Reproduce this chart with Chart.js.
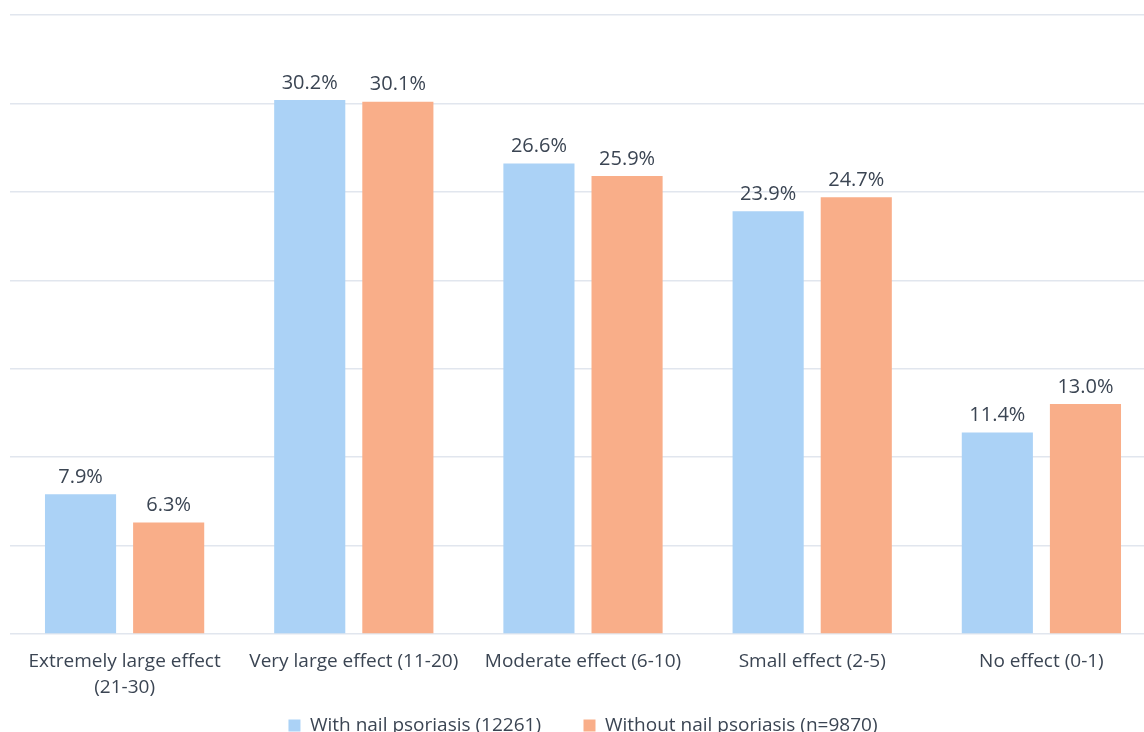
<!DOCTYPE html>
<html>
<head>
<meta charset="utf-8">
<script src="https://cdn.jsdelivr.net/npm/chart.js@4/dist/chart.umd.min.js"></script>
<style>
    html, body { margin: 0; padding: 0; background: #fff; overflow: hidden; }
    #wrap { width: 1160px; height: 745px; }
</style>
</head>
<body>
<div id="wrap"><canvas id="effectChart"></canvas></div>
<script>
const categories = [
    ['Extremely large effect', '(21-30)'],
    'Very large effect (11-20)',
    'Moderate effect (6-10)',
    'Small effect (2-5)',
    'No effect (0-1)',
];
const withNail = [7.9, 30.2, 26.6, 23.9, 11.4];
const withoutNail = [6.3, 30.1, 25.9, 24.7, 13.0];
const seriesNames = ['With nail psoriasis (12261)', 'Without nail psoriasis (n=9870)'];

const textColor = '#3b4553';
const fontFamily = '"Open Sans", "Liberation Sans", sans-serif';

// values above each bar
const barLabels = {
    id: 'barLabels',
    afterDatasetsDraw(chart) {
        const ctx = chart.ctx;
        ctx.save();
        ctx.font = '20px ' + fontFamily;
        ctx.fillStyle = textColor;
        ctx.textAlign = 'center';
        ctx.textBaseline = 'bottom';
        chart.data.datasets.forEach((ds, i) => {
            chart.getDatasetMeta(i).data.forEach((bar, j) => {
                ctx.fillText(ds.data[j].toFixed(1) + '%', bar.x, bar.y - 7);
            });
        });
        ctx.restore();
    },
};

new Chart(document.getElementById('effectChart'), {
    type: 'bar',
    data: {
        labels: categories,
        datasets: [
            { label: seriesNames[0], data: withNail, backgroundColor: '#abd2f6' },
            { label: seriesNames[1], data: withoutNail, backgroundColor: '#f9ae89' },
        ],
    },
    options: {
        responsive: true,
        maintainAspectRatio: false,
        animation: false,
        categoryPercentage: 0.769,
        barPercentage: 0.807,
        layout: { padding: { left: 10, right: 4, top: 15, bottom: 0 } },
        plugins: {
            tooltip: { enabled: false },
            legend: {
                position: 'bottom',
                labels: {
                    color: textColor,
                    font: { size: 19, family: fontFamily },
                    boxWidth: 12,
                    boxHeight: 12,
                    padding: 14,
                    // wider gap between the two entries, as in the original
                    generateLabels(chart) {
                        const items = Chart.defaults.plugins.legend.labels.generateLabels(chart);
                        items.forEach((item, i) => {
                            if (i < items.length - 1) item.text += '\u2002\u2002\u2002';
                        });
                        return items;
                    },
                },
            },
        },
        scales: {
            x: {
                grid: { display: false, drawTicks: false },
                border: { display: false },
                ticks: {
                    color: textColor,
                    font: { size: 19, family: fontFamily, lineHeight: 1.37 },
                    maxRotation: 0,
                    autoSkip: false,
                    padding: 15,
                },
                afterFit(scale) { scale.height = 68; },
            },
            y: {
                min: 0,
                max: 35,
                ticks: { display: false, stepSize: 5 },
                border: { display: false },
                grid: { color: '#e1e6ee', lineWidth: 1.5, drawTicks: false },
            },
        },
    },
    plugins: [barLabels],
});
</script>
</body>
</html>
